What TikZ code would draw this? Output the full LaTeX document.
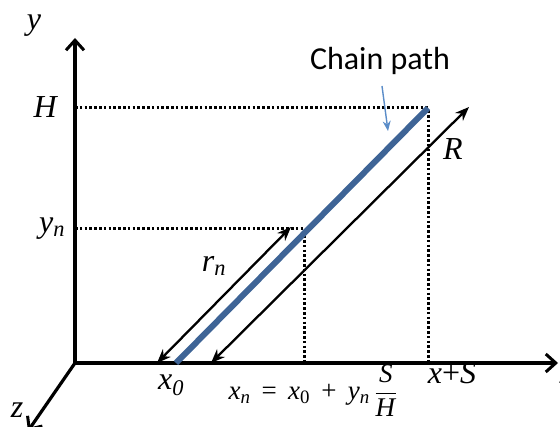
\documentclass[tikz,border=0pt]{standalone}
\usepackage{amsmath}
\usepackage{fontspec}
\setmainfont{Liberation Serif}
\newfontfamily\chainfont{Carlito}
\usepackage{tikz}
\usetikzlibrary{arrows.meta, positioning}

\begin{document}
\begin{tikzpicture}[x=1pt, y=-1pt,
  axis/.style={line width=3.2pt, -{Straight Barb[length=10pt, width=18pt, line width=3pt]}},
  dotline/.style={line width=3pt, dash pattern=on 2.6pt off 2.2pt},
  chain/.style={line width=6pt, color=chainblue},
  dim/.style={line width=2.3pt, {Stealth[length=14pt, width=11pt]}-{Stealth[length=14pt, width=11pt]}},
  lbl/.style={font=\fontsize{32}{34}\selectfont, inner sep=1pt},
]
\definecolor{chainblue}{RGB}{62,100,150}
\definecolor{notearrow}{RGB}{90,140,200}
\useasboundingbox (0,0) rectangle (560,427);

% -- axes --
\coordinate (O) at (75,363);
\coordinate (ytip) at (75,38);
\coordinate (xtip) at (558,363);
\coordinate (ztip) at (28,431);
\draw[axis] (O) -- (ytip);
\draw[axis] (O) -- (xtip);
\draw[axis] (O) -- (ztip);

% -- levels and feet --
\coordinate (Hy) at (75,108);
\coordinate (cH) at (428,108);
\coordinate (xS) at (428,363);
\coordinate (yny) at (75,229);
\coordinate (cn) at (304,229);
\coordinate (xn) at (304,363);
\draw[dotline] (Hy) -- (cH) -- (xS);
\draw[dotline] (yny) -- (cn) -- (xn);

% -- chain path --
\coordinate (c0) at (176,363);
\draw[chain] (c0) -- (cH);

% -- r_n and R --
\coordinate (rn0) at (157,363);
\coordinate (rn1) at (291,227);
\coordinate (R0) at (211,363);
\coordinate (R1) at (469,107);
\draw[dim] (rn0) -- (rn1);
\draw[dim] (R0) -- (R1);

% -- labels --
\node[lbl] (ylbl) at (34,26) {\textit{y}};
\node[lbl] (zlbl) at (17,410) {\textit{z}};
\node[lbl] (xlbl) at (567,376) {\textit{x}};
\node[lbl] (Hlbl) at (46,107) {\textit{H}};
\node[lbl] (ynlbl) at (52,229) {\textit{y}\textsubscript{\textit{n}}};
\node[lbl] (rnlbl) at (214,266) {\textit{r}\textsubscript{\textit{n}}};
\node[lbl] (Rlbl) at (453,149) {\textit{R}};
\node[lbl] (x0lbl) at (171,385) {\textit{x}\textsubscript{\textit{0}}};
\node[lbl] (xSlbl) at (452,373) {\textit{x}+\textit{S}};
\node[lbl, font=\fontsize{27}{29}\selectfont] (xnlbl) at (313,391)
  {\textit{x}\textsubscript{\textit{n}}\, = \,\textit{x}\textsubscript{0}\, + \,\textit{y}\textsubscript{\textit{n}}\,$\dfrac{\mbox{\textit{S}}}{\mbox{\textit{H}}}$};

% -- chain path note --
\node[font=\chainfont\fontsize{32}{34}\selectfont, inner sep=1pt] (note) at (380,61) {Chain path};
\coordinate (notetip) at (388,131);
\draw[line width=1.4pt, notearrow, -{Stealth[length=10pt, width=8pt]}] (382,86) -- (notetip);
\end{tikzpicture}
\end{document}
